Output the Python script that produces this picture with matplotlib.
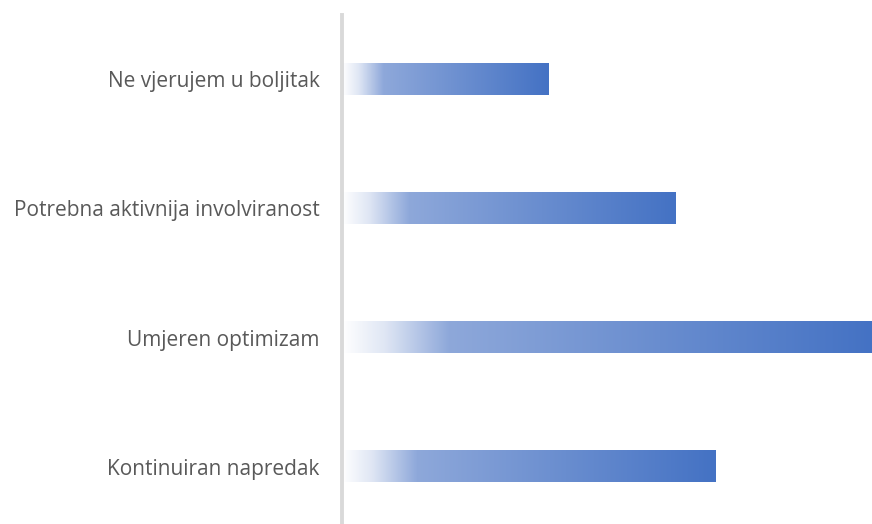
import matplotlib.pyplot as plt
import numpy as np
from matplotlib.colors import LinearSegmentedColormap

categorias = ['Kontinuiran napredak', 'Umjeren optimizam',
              'Potrebna aktivnija involviranost', 'Ne vjerujem u boljitak']
valores = [70.5, 100, 63, 39]

plt.rcParams['font.family'] = ['Open Sans', 'DejaVu Sans']

# gradiente branco -> azul
cmap = LinearSegmentedColormap.from_list(
    'grad', [(0, '#ffffff'), (0.08, '#dfe6f4'), (0.2, '#8ea8da'), (1, '#4472c4')])
grad = np.linspace(0, 1, 256).reshape(1, -1)

fig = plt.figure(figsize=(8.72, 5.24), dpi=100)
ax = fig.add_axes([342 / 872, -7.6 / 524, 530 / 872, 517 / 524])

altura = 0.24
for i, v in enumerate(valores):
    ax.imshow(grad, cmap=cmap, aspect='auto', interpolation='bilinear',
              extent=[0, v, i - altura / 2, i + altura / 2], zorder=2)

ax.set_xlim(0, max(valores))
ax.set_ylim(-0.5, len(categorias) - 0.5)
ax.set_yticks(range(len(categorias)))
ax.set_yticklabels(categorias, fontsize=15, color='#595959')
ax.tick_params(axis='y', length=0, pad=16)
ax.set_xticks([])

for lado in ['top', 'right', 'bottom']:
    ax.spines[lado].set_visible(False)
ax.spines['left'].set_color('#d9d9d9')
ax.spines['left'].set_linewidth(2.8)

fig.savefig('out.png', dpi=100)
